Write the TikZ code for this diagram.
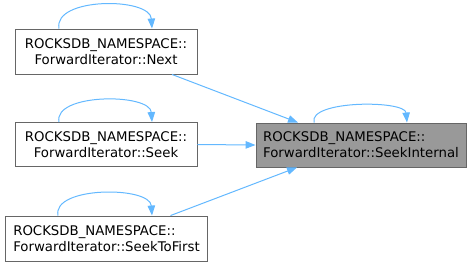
\documentclass[tikz,border=0pt]{standalone}
\usepackage{fontspec}
\setmainfont{DejaVu Sans}
\usetikzlibrary{arrows.meta}
\definecolor{edgeblue}{HTML}{63B8FF}
\definecolor{boxline}{HTML}{666666}
\definecolor{hilite}{HTML}{999999}
\begin{document}
\begin{tikzpicture}[x=1pt,y=-1pt,
  fnbox/.style={draw=boxline, line width=0.9pt, fill=white, inner sep=0pt,
    font=\fontsize{13.3}{16.3}\selectfont, text=black},
  edge/.style={draw=edgeblue, line width=1pt,
    -{Triangle[length=10pt,width=7.5pt]}}]
\useasboundingbox (0,0) rectangle (472,266);

% caller functions
\node[fnbox, align=center, minimum width=182pt, minimum height=45pt] (next) at (106,51.5)
  {ROCKSDB\_NAMESPACE::\\ForwardIterator::Next};
\node[fnbox, align=center, minimum width=182pt, minimum height=44pt] (seek) at (106,144.5)
  {ROCKSDB\_NAMESPACE::\\ForwardIterator::Seek};
\node[fnbox, align=left, minimum width=202pt, minimum height=45pt] (stf) at (106.5,238.5)
  {ROCKSDB\_NAMESPACE::\\ForwardIterator::SeekToFirst};

% the documented function
\node[fnbox, fill=hilite, align=left, minimum width=210pt, minimum height=44pt] (si) at (361,145)
  {ROCKSDB\_NAMESPACE::\\ForwardIterator::SeekInternal};

% recursive calls
\draw[edge] ([xshift=-47pt]next.north) .. controls (53,-3) and (150,-3) .. ([xshift=46pt]next.north);
\draw[edge] ([xshift=-47pt]seek.north) .. controls (53,93) and (150,93) .. ([xshift=46pt]seek.north);
\draw[edge] ([xshift=-48.5pt]stf.north) .. controls (52,186) and (150,186) .. ([xshift=45.5pt]stf.north);
\draw[edge] ([xshift=-47pt]si.north) .. controls (308,100) and (405,100) .. ([xshift=46pt]si.north);

% call edges
\draw[edge] ([xshift=66pt]next.south) -- ([xshift=-63pt]si.north);
\draw[edge] (seek.east) -- (si.west);
\draw[edge] ([xshift=64pt]stf.north) -- ([xshift=-64pt]si.south);
\end{tikzpicture}
\end{document}
